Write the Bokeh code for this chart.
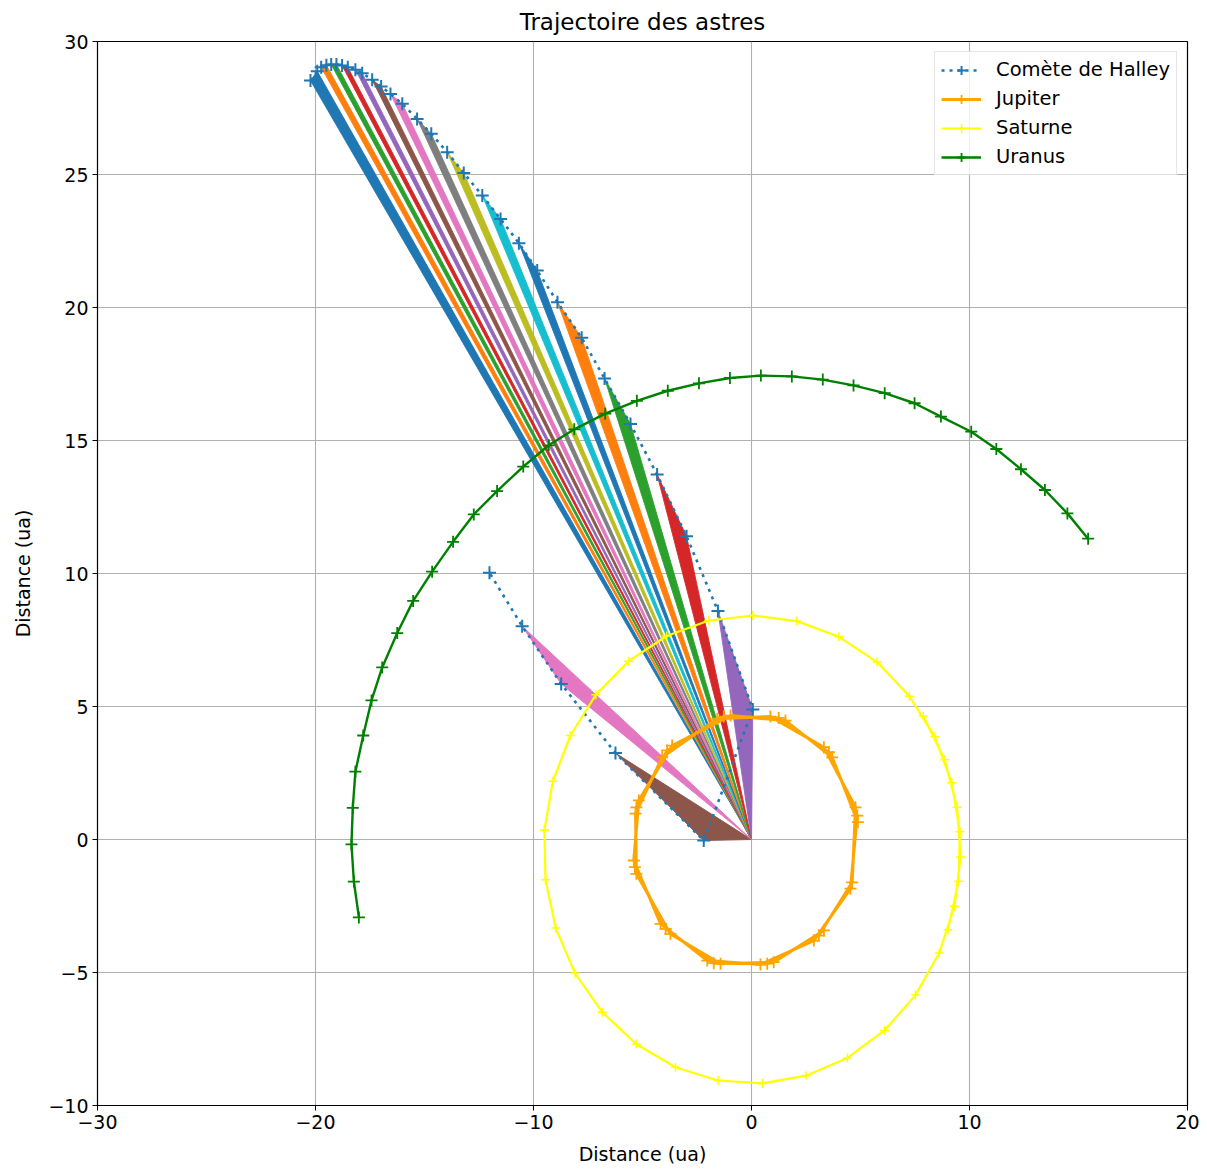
from bokeh.plotting import figure
from bokeh.models import Range1d, FixedTicker, CustomJSTickFormatter, Legend, LegendItem
from bokeh.embed import file_html
from bokeh.resources import INLINE

# ---------------- data ----------------
sun_x, sun_y = 0.0, 0.0

halley_x = [-20.23, -19.92, -19.74, -19.50, -19.28, -19.04, -18.78, -18.52, -18.17, -17.86,
            -17.40, -16.99, -16.56, -16.02, -15.34, -14.69, -13.96, -13.20, -12.35, -11.51,
            -10.67, -9.83, -8.90, -7.79, -6.74, -5.55, -4.33, -2.98, -1.54, 0.06,
            -2.19, -6.24, -8.73, -10.52, -12.02]
halley_y = [28.53, 28.88, 29.03, 29.11, 29.14, 29.14, 29.10, 29.03, 28.94, 28.81,
            28.56, 28.31, 28.03, 27.66, 27.09, 26.53, 25.84, 25.06, 24.21, 23.33,
            22.42, 21.39, 20.20, 18.86, 17.33, 15.62, 13.72, 11.40, 8.59, 4.89,
            -0.04, 3.25, 5.85, 8.02, 10.03]

jupiter_x = [4.88, 3.70, 1.56, -0.96, -3.64, -5.17, -5.40, -4.17, -2.03, 0.41, 2.86, 4.54,
             4.85, 3.55, 1.25, -1.27, -3.87, -5.28, -5.35, -3.94, -1.73, 0.72, 3.09, 4.62,
             4.77, 3.32, 0.87, -1.57, -4.10, -5.32, -5.28, -3.72, -1.42, 1.02, 3.32]
jupiter_y = [0.65, 3.09, 4.47, 4.66, 3.53, 1.47, -0.79, -3.17, -4.55, -4.70, -3.80, -1.85,
             0.90, 3.28, 4.57, 4.62, 3.35, 1.21, -1.04, -3.36, -4.65, -4.67, -3.61, -1.61,
             1.21, 3.47, 4.62, 4.54, 3.09, 0.97, -1.29, -3.55, -4.67, -4.61, -3.42]

saturne_x = [9.01, 9.50, 9.56, 9.19, 8.41, 7.24, 5.76, 4.01, 2.08, 0.06,
             -1.96, -3.89, -5.64, -7.14, -8.31, -9.11, -9.50, -9.45, -8.98, -8.10,
             -6.85, -5.29, -3.49, -1.53, 0.50, 2.50, 4.40, 6.10, 7.52, 8.61,
             9.31, 9.59, 9.43, 8.86, 7.88]
saturne_y = [-3.39, -1.57, 0.29, 2.13, 3.86, 5.39, 6.67, 7.62, 8.21, 8.42,
             8.23, 7.65, 6.70, 5.44, 3.91, 2.19, 0.36, -1.51, -3.33, -5.02,
             -6.49, -7.69, -8.56, -9.06, -9.17, -8.88, -8.21, -7.18, -5.85, -4.27,
             -2.51, -0.66, 1.21, 3.00, 4.64]

uranus_x = [15.44, 14.49, 13.46, 12.36, 11.23, 10.08, 8.69, 7.48, 6.11, 4.68,
            3.27, 1.85, 0.43, -0.99, -2.41, -3.84, -5.26, -6.71, -8.13, -9.30,
            -10.47, -11.67, -12.74, -13.69, -14.65, -15.52, -16.25, -16.94, -17.43, -17.81,
            -18.17, -18.29, -18.35, -18.24, -18.01]
uranus_y = [11.31, 12.26, 13.14, 13.92, 14.68, 15.33, 15.90, 16.40, 16.78, 17.07,
            17.29, 17.41, 17.44, 17.35, 17.15, 16.87, 16.49, 16.01, 15.42, 14.82,
            14.02, 13.10, 12.22, 11.19, 10.07, 8.97, 7.76, 6.47, 5.23, 3.91,
            2.55, 1.19, -0.18, -1.58, -2.93]

labels = ["Comète de Halley", "Jupiter", "Saturne", "Uranus"]
x_ticks = [-30, -20, -10, 0, 10, 20]
y_ticks = [-10, -5, 0, 5, 10, 15, 20, 25, 30]

cycle = ["#1f77b4", "#ff7f0e", "#2ca02c", "#d62728", "#9467bd",
         "#8c564b", "#e377c2", "#7f7f7f", "#bcbd22", "#17becf"]

FONT = "DejaVu Sans"

# ---------------- figure ----------------
p = figure(frame_width=1090, frame_height=1064,
           x_range=Range1d(-30, 20), y_range=Range1d(-10, 30),
           output_backend="svg", toolbar_location=None,
           min_border_left=97, min_border_right=20, min_border_top=41, min_border_bottom=64,
           background_fill_color="white", border_fill_color="white")

p.title.text = "Trajectoire des astres"
p.title.align = "center"
p.title.text_font = FONT
p.title.text_font_size = "23px"
p.title.text_font_style = "normal"
p.title.text_color = "black"
p.title.standoff = 13

p.outline_line_color = "black"
p.outline_line_width = 1.2

fmt = CustomJSTickFormatter(code="return tick < 0 ? '\u2212' + Math.abs(tick) : String(tick);")
p.xaxis.ticker = FixedTicker(ticks=x_ticks)
p.yaxis.ticker = FixedTicker(ticks=y_ticks)
for ax in (p.xaxis, p.yaxis):
    ax.formatter = fmt
    ax.axis_label = "Distance (ua)"
    ax.axis_label_text_font = FONT
    ax.axis_label_text_font_size = "19px"
    ax.axis_label_text_font_style = "normal"
    ax.axis_label_text_color = "black"
    ax.major_label_text_font = FONT
    ax.major_label_text_font_size = "19px"
    ax.major_label_text_color = "black"
    ax.axis_line_color = "black"
    ax.major_tick_line_color = "black"
    ax.major_tick_out = 5
    ax.major_tick_in = 0
    ax.minor_tick_line_color = None
    ax.major_label_standoff = 4
    ax.axis_label_standoff = 11
p.yaxis.major_label_orientation = "horizontal"

p.grid.grid_line_color = "#b0b0b0"
p.grid.grid_line_width = 1.1

# ---------------- swept areas (Kepler) ----------------
n_w = (len(halley_x) - 1) // 2
wx = [[sun_x, halley_x[2 * k], halley_x[2 * k + 1]] for k in range(n_w)]
wy = [[sun_y, halley_y[2 * k], halley_y[2 * k + 1]] for k in range(n_w)]
wc = [cycle[k % 10] for k in range(n_w)]
p.patches(wx, wy, fill_color=wc, line_color=wc, line_width=0.9, line_join="round")

# ---------------- trajectories ----------------
r_h_line = p.line(halley_x, halley_y, line_color="#1f77b4", line_width=2.6, line_dash="3 5")
r_h_mk = p.scatter(halley_x, halley_y, marker="cross", size=13, line_color="#1f77b4", line_width=2)

r_j_line = p.line(jupiter_x, jupiter_y, line_color="#ffa500", line_width=3)
r_j_mk = p.scatter(jupiter_x, jupiter_y, marker="cross", size=12, line_color="#ffa500", line_width=1.8)

r_s_line = p.line(saturne_x, saturne_y, line_color="#ffff00", line_width=2.2)
r_s_mk = p.scatter(saturne_x, saturne_y, marker="cross", size=9, line_color="#ffff00", line_width=1.5)

r_u_line = p.line(uranus_x, uranus_y, line_color="#008000", line_width=2.4)
r_u_mk = p.scatter(uranus_x, uranus_y, marker="cross", size=12, line_color="#008000", line_width=1.8)

legend = Legend(items=[
    LegendItem(label=labels[0], renderers=[r_h_line, r_h_mk]),
    LegendItem(label=labels[1], renderers=[r_j_line, r_j_mk]),
    LegendItem(label=labels[2], renderers=[r_s_line, r_s_mk]),
    LegendItem(label=labels[3], renderers=[r_u_line, r_u_mk]),
], location="top_right")
legend.label_text_font = FONT
legend.label_text_font_size = "19.5px"
legend.label_text_color = "black"
legend.glyph_width = 40
legend.glyph_height = 22
legend.label_height = 22
legend.label_standoff = 15
legend.spacing = 6
legend.padding = 6
legend.margin = 10
legend.border_line_color = "#cccccc"
legend.border_line_width = 1.2
legend.background_fill_alpha = 0.8
p.add_layout(legend, "center")

html = file_html(p, INLINE)
with open("out.html", "w", encoding="utf-8") as f:
    f.write(html)
